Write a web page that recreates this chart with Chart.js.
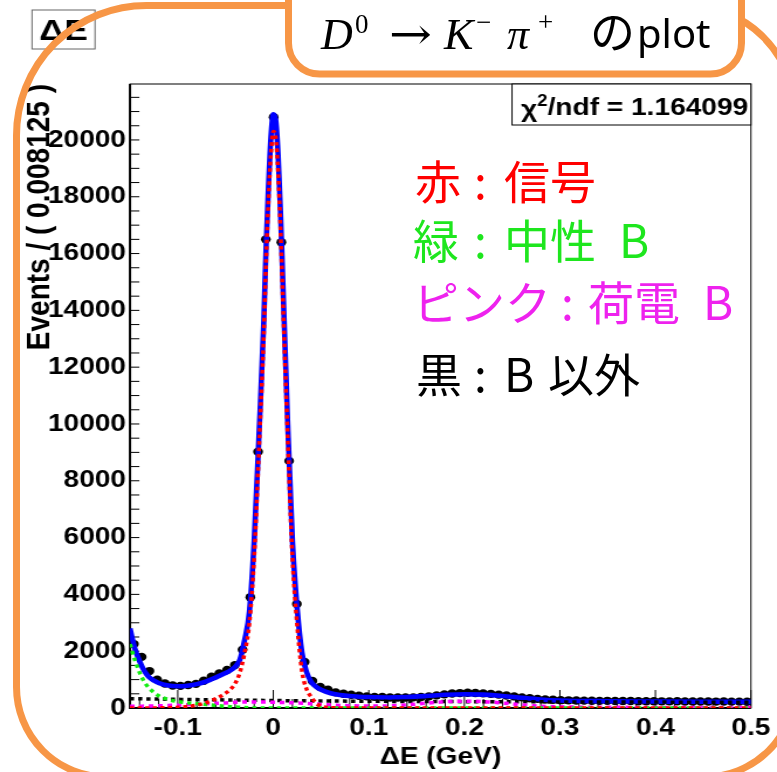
<!DOCTYPE html>
<html>
<head>
<meta charset="utf-8">
<title>ΔE fit – D0 → K- π+</title>
<script src="https://cdn.jsdelivr.net/npm/chart.js@4/dist/chart.umd.min.js"></script>
<style>
  html, body { margin: 0; padding: 0; background: #fff; }
  #wrap { position: relative; width: 777px; height: 772px; overflow: hidden; }
  #plot { position: absolute; left: 0; top: 0; }
  #deco { position: absolute; left: 0; top: 0; }
</style>
</head>
<body>
<div id="wrap">
  <!-- the ROOT-style plot is drawn on a narrower canvas and shown stretched horizontally -->
  <canvas id="plot" width="664" height="772" style="width:777px;height:772px"></canvas>
  <svg id="deco" width="777" height="772" viewBox="0 0 777 772" xmlns="http://www.w3.org/2000/svg">
    <!-- slide frame -->
    <path d="M146.5,5.5 L687,5.5 A108,108 0 0 1 795,113.5 L795,687 A90,90 0 0 1 705,777 L106.5,777 A90,90 0 0 1 16.5,687 L16.5,135.5 A130,130 0 0 1 146.5,5.5 Z"
          fill="none" stroke="#f79646" stroke-width="7"/>
    <!-- heading tab -->
    <path d="M288.5,-40 L288.5,43 A31,31 0 0 0 319.5,74 L710.5,74 A31,31 0 0 0 741.5,43 L741.5,-40 Z"
          fill="#ffffff" stroke="#f79646" stroke-width="7"/>
    <g font-family="Liberation Serif, DejaVu Serif, serif" fill="#000">
      <text x="321" y="49" font-size="44" font-style="italic">D</text>
      <text x="355" y="33" font-size="27">0</text>
      <text x="389" y="49" font-size="44" font-family="DejaVu Serif" textLength="43" lengthAdjust="spacingAndGlyphs">→</text>
      <text x="444" y="49" font-size="44" font-style="italic">K</text>
      <text x="476" y="31" font-size="27">−</text>
      <text x="507" y="49" font-size="44" font-style="italic">π</text>
      <text x="538" y="31" font-size="27">+</text>
    </g>
    <text x="590" y="49" font-family="Noto Sans CJK JP" font-size="45" fill="#000">の</text>
    <text x="637" y="48" font-family="Noto Sans" font-size="40" fill="#000">plot</text>
    <!-- colour key -->
    <g font-family="Noto Sans CJK JP" font-size="46">
      <text y="199" fill="#ff0000"><tspan x="415">赤</tspan><tspan x="474">:</tspan><tspan x="504">信号</tspan></text>
      <text y="258" fill="#1ee61e"><tspan x="413">緑</tspan><tspan x="474">:</tspan><tspan x="504">中性</tspan><tspan x="619">B</tspan></text>
      <text y="320" fill="#ee22ee"><tspan x="413">ピンク</tspan><tspan x="561">:</tspan><tspan x="588">荷電</tspan><tspan x="703">B</tspan></text>
      <text y="392" fill="#000000"><tspan x="416">黒</tspan><tspan x="474">:</tspan><tspan x="504">B</tspan><tspan x="548">以外</tspan></text>
    </g>
  </svg>
</div>

<script>
// ---- histogram: ΔE distribution, 80 bins from -0.15 to 0.5 GeV ----
const BIN_LO = -0.15;
const BIN_W = 0.008125;
const eventsPerBin = [
  2250, 1800, 1300, 1000, 860, 790, 780, 810, 850, 960,
  1100, 1220, 1340, 1510, 2050, 3900, 9020, 16500, 20800, 16400,
  8700, 3660, 1620, 950, 740, 640, 550, 500, 465, 430,
  410, 392, 385, 372, 368, 370, 374, 388, 410, 445,
  480, 510, 525, 535, 528, 515, 498, 470, 440, 408,
  375, 345, 322, 300, 288, 276, 270, 262, 260, 254,
  250, 252, 246, 244, 246, 240, 238, 240, 235, 234,
  236, 230, 231, 228, 229, 226, 227, 224, 225, 222
];

// ---- fit curves sampled on a common ΔE grid ----
const fitX = [
  -0.15, -0.145, -0.14, -0.135, -0.13, -0.12, -0.11, -0.10, -0.09, -0.08,
  -0.07, -0.06, -0.05, -0.045, -0.04, -0.035, -0.03, -0.025, -0.02, -0.015,
  -0.01, -0.0075, -0.005, -0.0025, 0, 0.0025, 0.005, 0.0075, 0.01, 0.015,
  0.02, 0.025, 0.03, 0.035, 0.04, 0.045, 0.05, 0.06, 0.07, 0.08,
  0.09, 0.10, 0.12, 0.14, 0.16, 0.18, 0.20, 0.22, 0.24, 0.26,
  0.28, 0.30, 0.35, 0.40, 0.45, 0.50
];
const fitTotal = [
  2800, 2100, 1650, 1300, 1080, 880, 790, 765, 785, 840,
  940, 1080, 1230, 1320, 1450, 1700, 2400, 3400, 5900, 9600,
  13600, 16300, 18400, 20100, 20900, 20700, 19500, 17500, 15000, 10100,
  5900, 3500, 1950, 1250, 900, 740, 640, 520, 460, 420,
  398, 385, 372, 385, 420, 465, 485, 470, 425, 360,
  302, 265, 238, 228, 220, 215
];
const fitSignal = [
  0, 0, 0, 1, 2, 5, 12, 25, 50, 100,
  190, 330, 520, 650, 860, 1250, 1950, 3000, 5300, 9100,
  13100, 15800, 17900, 19500, 20300, 20100, 18900, 16900, 14400, 9600,
  5300, 2900, 1300, 650, 380, 160, 60, 15, 4, 1,
  0, 0, 0, 0, 0, 0, 0, 0, 0, 0,
  0, 0, 0, 0, 0, 0
];
const fitNeutralB = [
  2250, 1700, 1250, 920, 700, 430, 300, 225, 180, 150,
  120, 90, 60, 48, 35, 25, 15, 8, 4, 2,
  1, 0, 0, 0, 0, 0, 0, 0, 0, 0,
  0, 0, 0, 0, 0, 0, 0, 0, 0, 0,
  0, 0, 0, 0, 0, 0, 0, 0, 0, 0,
  0, 0, 0, 0, 0, 0
];
const fitChargedB = [
  60, 62, 65, 67, 70, 78, 88, 100, 115, 130,
  150, 165, 180, 190, 200, 205, 210, 212, 212, 210,
  208, 206, 204, 202, 200, 198, 196, 194, 192, 188,
  182, 176, 170, 160, 150, 140, 125, 105, 90, 80,
  72, 68, 75, 110, 170, 220, 240, 225, 175, 115,
  65, 40, 25, 20, 17, 15
];
const fitNonB = [
  330, 328, 325, 322, 320, 315, 310, 305, 300, 296,
  292, 288, 284, 282, 280, 278, 276, 274, 272, 270,
  268, 267, 266, 265, 264, 263, 262, 261, 260, 258,
  256, 255, 253, 252, 250, 249, 248, 245, 243, 240,
  238, 236, 233, 230, 228, 226, 224, 222, 220, 218,
  216, 215, 212, 208, 204, 200
];

// ---- axes ----
const xTickValues = [-0.1, 0, 0.1, 0.2, 0.3, 0.4, 0.5];
const xTickLabels = ['-0.1', '0', '0.1', '0.2', '0.3', '0.4', '0.5'];
const yTickValues = [0, 2000, 4000, 6000, 8000, 10000, 12000, 14000, 16000, 18000, 20000];
const yTickLabels = ['0', '2000', '4000', '6000', '8000', '10000', '12000', '14000', '16000', '18000', '20000'];
const X_MIN = -0.15, X_MAX = 0.5, X_MINOR = 0.02;
const Y_MIN = 0, Y_MAX = 21970, Y_MINOR = 500;
const chi2Text = '1.164099';

// canvas is 664 px wide but shown 777 px wide
const SX = 777 / 664;
const cx = v => v / SX;   // page x -> canvas x

const ROOT_FONT = 'Liberation Sans, Arial, sans-serif';

const dataPts = eventsPerBin.map((n, i) => ({ x: BIN_LO + BIN_W * (i + 0.5), y: n }));
const curve = arr => fitX.map((x, i) => ({ x, y: arr[i] }));

function minorTicks(min, max, step) {
  const out = [];
  for (let k = Math.ceil(min / step - 1e-9); k * step <= max + 1e-9; k++) {
    out.push(Math.round(k * step * 1e6) / 1e6);
  }
  return out;
}
const xMajorIndex = v => xTickValues.findIndex(t => Math.abs(t - v) < 1e-6);
const yMajorIndex = v => yTickValues.findIndex(t => Math.abs(t - v) < 1e-6);

// inner tick marks, frame and the two text boxes
const rootDecor = {
  id: 'rootDecor',
  beforeDatasetsDraw(chart) {
    const { ctx, chartArea: a, scales: { x, y } } = chart;
    ctx.save();
    ctx.strokeStyle = '#000';
    ctx.lineWidth = 1;
    x.ticks.forEach(t => {
      const p = x.getPixelForValue(t.value);
      const len = xMajorIndex(t.value) >= 0 ? 18 : 9;
      ctx.beginPath(); ctx.moveTo(p, a.bottom); ctx.lineTo(p, a.bottom - len); ctx.stroke();
    });
    y.ticks.forEach(t => {
      const p = y.getPixelForValue(t.value);
      ctx.beginPath(); ctx.moveTo(a.left, p); ctx.lineTo(a.left + 8, p); ctx.stroke();
    });
    ctx.strokeRect(a.left, a.top, a.right - a.left, a.bottom - a.top);
    ctx.lineWidth = 2;
    ctx.beginPath();
    ctx.moveTo(a.left, a.top); ctx.lineTo(a.left, a.bottom); ctx.lineTo(a.right, a.bottom);
    ctx.stroke();
    ctx.restore();
  },
  afterDraw(chart) {
    const { ctx, chartArea: a } = chart;
    ctx.save();
    // fit quality box
    const bx = cx(512), by = a.top, bw = a.right - bx, bh = 41;
    ctx.fillStyle = '#fff';
    ctx.fillRect(bx, by, bw, bh);
    ctx.strokeStyle = '#000';
    ctx.lineWidth = 1;
    ctx.strokeRect(bx, by, bw, bh);
    ctx.fillStyle = '#000';
    ctx.textBaseline = 'alphabetic';
    let tx = cx(521);
    const base = 115;
    ctx.font = 'bold 24px ' + ROOT_FONT;
    ctx.fillText('χ', tx, base + 2);
    tx += ctx.measureText('χ').width;
    ctx.font = 'bold 16px ' + ROOT_FONT;
    ctx.fillText('2', tx, base - 9);
    tx += ctx.measureText('2').width;
    ctx.font = 'bold 24px ' + ROOT_FONT;
    ctx.fillText('/ndf = ' + chi2Text, tx, base);

    // variable name box
    const vx = cx(32), vy = 10, vw = cx(95) - cx(32), vh = 39;
    ctx.fillStyle = '#fff';
    ctx.fillRect(vx, vy, vw, vh);
    ctx.strokeStyle = '#666';
    ctx.strokeRect(vx, vy, vw, vh);
    ctx.fillStyle = '#000';
    ctx.font = 'bold 30px ' + ROOT_FONT;
    ctx.textAlign = 'center';
    ctx.textBaseline = 'middle';
    ctx.fillText('ΔE', vx + vw / 2, vy + vh / 2 + 2);
    ctx.restore();
  }
};

const lineDefaults = { showLine: true, pointRadius: 0, fill: false, cubicInterpolationMode: 'monotone', borderCapStyle: 'butt' };

new Chart(document.getElementById('plot'), {
  type: 'scatter',
  data: {
    datasets: [
      { label: 'data', data: dataPts, order: 10, showLine: false,
        pointRadius: 4.2, pointBorderWidth: 0, pointBackgroundColor: '#000', pointBorderColor: '#000' },
      Object.assign({ label: 'total', data: curve(fitTotal), order: 5,
        borderColor: '#0000ff', borderWidth: 4.6 }, lineDefaults),
      Object.assign({ label: '非B', data: curve(fitNonB), order: 4,
        borderColor: '#000000', borderWidth: 3.5, borderDash: [3.5, 3.5] }, lineDefaults),
      Object.assign({ label: '荷電B', data: curve(fitChargedB), order: 3,
        borderColor: '#ff00ff', borderWidth: 3.5, borderDash: [4, 4] }, lineDefaults),
      Object.assign({ label: '中性B', data: curve(fitNeutralB), order: 2,
        borderColor: '#11ee11', borderWidth: 3.5, borderDash: [3.5, 3.5] }, lineDefaults),
      Object.assign({ label: '信号', data: curve(fitSignal), order: 1,
        borderColor: '#ff0000', borderWidth: 3.5, borderDash: [3.5, 3] }, lineDefaults)
    ]
  },
  options: {
    responsive: false,
    animation: false,
    devicePixelRatio: 1,
    layout: { padding: { left: 0, right: 664 - cx(755), top: 84, bottom: 0 } },
    plugins: { legend: { display: false }, tooltip: { enabled: false } },
    scales: {
      x: {
        type: 'linear', min: X_MIN, max: X_MAX,
        afterFit(s) { s.height = 64; },
        afterBuildTicks(s) { s.ticks = minorTicks(X_MIN, X_MAX, X_MINOR).map(v => ({ value: v })); },
        grid: { display: false, drawTicks: false },
        border: { display: false },
        ticks: {
          autoSkip: false, maxRotation: 0, padding: 5.6, color: '#000',
          font: { family: ROOT_FONT, size: 24, weight: 'bold' },
          callback: v => { const i = xMajorIndex(v); return i >= 0 ? xTickLabels[i] : ''; }
        },
        title: {
          display: true, text: 'ΔE (GeV)', color: '#000',
          font: { family: ROOT_FONT, size: 24, weight: 'bold' },
          padding: { top: 0, bottom: 0 }
        }
      },
      y: {
        type: 'linear', min: Y_MIN, max: Y_MAX,
        afterFit(s) { s.width = cx(130); },
        afterBuildTicks(s) { s.ticks = minorTicks(Y_MIN, Y_MAX, Y_MINOR).map(v => ({ value: v })); },
        grid: { display: false, drawTicks: false },
        border: { display: false },
        ticks: {
          autoSkip: false, padding: 3.4, color: '#000',
          font: { family: ROOT_FONT, size: 24, weight: 'bold' },
          callback: v => { const i = yMajorIndex(v); return i >= 0 ? yTickLabels[i] : ''; }
        },
        title: {
          display: true, text: 'Events / ( 0.008125 )', align: 'end', color: '#000',
          font: { family: ROOT_FONT, size: 28, weight: 'bold' },
          padding: { top: 17, bottom: 0 }
        }
      }
    }
  },
  plugins: [rootDecor]
});
</script>
</body>
</html>
